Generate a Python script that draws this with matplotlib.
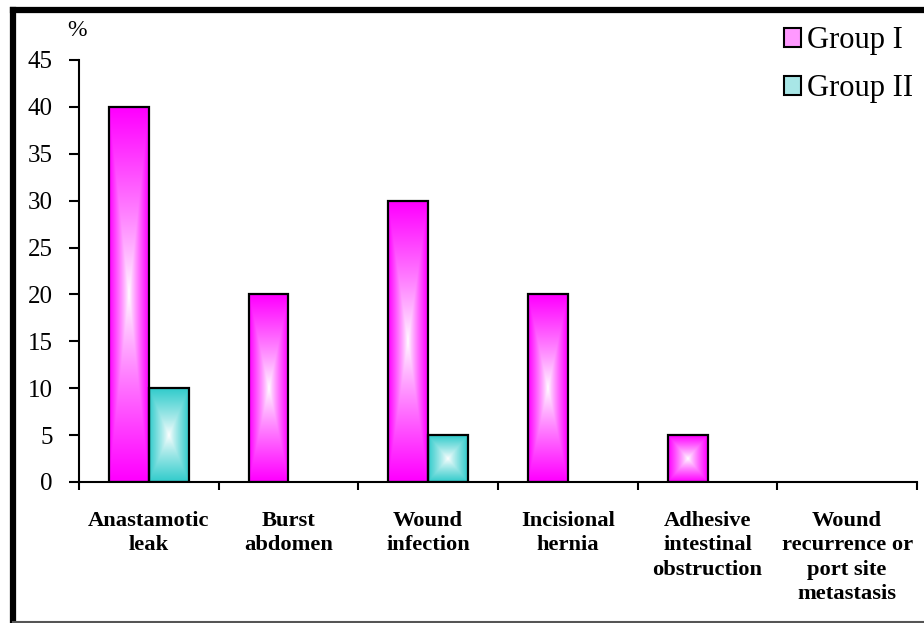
import numpy as np
import matplotlib
matplotlib.use('Agg')
import matplotlib.pyplot as plt
from matplotlib.colors import to_rgb
from matplotlib.lines import Line2D
from matplotlib.patches import Patch

# Chart data
categories = ['Anastamotic\nleak', 'Burst\nabdomen', 'Wound\ninfection',
              'Incisional\nhernia', 'Adhesive\nintestinal\nobstruction',
              'Wound\nrecurrence or\nport site\nmetastasis']
group1 = [40, 20, 30, 20, 5, 0]
group2 = [10, 0, 5, 0, 0, 0]
series_names = ['Group I', 'Group II']
series_colors = ['#FF00FF', '#33CCCC']

plt.rcParams['font.family'] = ['Liberation Serif', 'DejaVu Serif']

fig = plt.figure(figsize=(9.24, 6.23), dpi=100)
ax = fig.add_axes([79 / 924, 1 - 482 / 623, (917 - 79) / 924, (482 - 60) / 623])


def gradient_bar(ax, x0, x1, h, color):
    # rectangular "from centre" gradient: white middle, full colour at edges
    n = 60
    u = np.linspace(-1, 1, n)
    uu, vv = np.meshgrid(u, u)
    t = np.maximum(np.abs(uu), np.abs(vv)) ** 0.85
    c = np.array(to_rgb(color))
    img = (1 - t)[..., None] * np.ones(3) + t[..., None] * c
    ax.imshow(img, extent=[x0, x1, 0, h], aspect='auto', zorder=2,
              interpolation='bilinear', origin='lower')
    ax.bar((x0 + x1) / 2, h, width=x1 - x0, facecolor='none',
           edgecolor='black', linewidth=1.6, zorder=3)


x = np.arange(len(categories))
bw = 0.2857
for i, vals in enumerate([group1, group2]):
    for xi, v in zip(x, vals):
        if v > 0:
            x0 = xi - bw + i * bw
            gradient_bar(ax, x0, x0 + bw, v, series_colors[i])

ax.set_xlim(-0.5, len(categories) - 0.5)
ax.set_ylim(0, 45)
ax.set_yticks(range(0, 46, 5))
ax.tick_params(axis='y', direction='out', length=7, width=1.5, labelsize=18, pad=12)

ax.set_xticks(x)
ax.set_xticklabels(categories, fontsize=16.2, fontweight='bold', linespacing=1.28)
ax.tick_params(axis='x', length=0, pad=21)
ax.set_xticks(np.arange(-0.5, len(categories)), minor=True)
ax.tick_params(axis='x', which='minor', direction='out', length=6, width=1.5)

for side in ['top', 'right']:
    ax.spines[side].set_visible(False)
for side in ['left', 'bottom']:
    ax.spines[side].set_linewidth(1.5)

fig.text(77 / 924, 1 - 30 / 623, '%', fontsize=17, ha='center', va='center')

handles = [Patch(facecolor='#FF99FF', edgecolor='black', linewidth=1.5),
           Patch(facecolor='#A8E6E6', edgecolor='black', linewidth=1.5)]
fig.legend(handles, series_names, loc='upper left',
           bbox_to_anchor=(772 / 924, 1 - 14 / 623), frameon=False,
           fontsize=22, handlelength=0.55, handleheight=0.55,
           handletextpad=0.2, labelspacing=0.62, borderaxespad=0)

# outer border of the chart area
fig.add_artist(Line2D([13 / 924, 13 / 924], [0, 1 - 10 / 623], color='black', linewidth=4.5))
fig.add_artist(Line2D([13 / 924, 1], [1 - 10 / 623, 1 - 10 / 623], color='black', linewidth=4.5))
fig.add_artist(Line2D([13 / 924, 1], [1.5 / 623, 1.5 / 623], color='#555555', linewidth=1.5))

fig.savefig('out.png', dpi=100)
